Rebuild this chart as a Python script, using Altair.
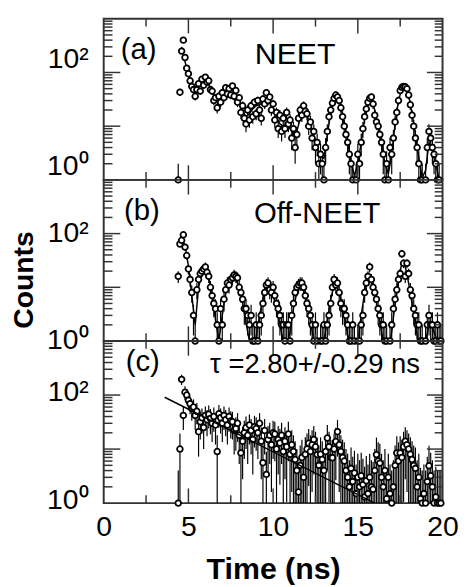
import altair as alt
import pandas as pd
import numpy as np

# ---------------- data ----------------
T0, DT, NBINS = 4.4, 0.1, 156          # time bins (ns)
COUNTS_A = [1, 43, 250, 400, 190, 120, 95, 70, 55, 48,
            36, 48, 62, 45, 75, 58, 82, 66, 70, 48,
            45, 30, 34, 22, 36, 28, 42, 34, 52, 40,
            50, 38, 56, 36, 46, 28, 34, 18, 24, 14,
            11, 20, 13, 24, 15, 28, 17, 30, 20, 14,
            32, 26, 42, 30, 35, 20, 26, 13, 18, 9,
            16, 8, 14, 9, 18, 11, 13, 6, 9, 4,
            7, 14, 20, 16, 24, 19, 17, 10, 12, 6,
            8, 4, 5, 2, 3, 2, 1, 4, 8, 15,
            20, 27, 33, 38, 35, 30, 22, 15, 10, 7,
            5, 3, 2, 1, 0, 1, 3, 2, 5, 9,
            15, 21, 28, 33, 35, 26, 16, 12, 10, 7,
            5, 3, 1, 2, 1, 4, 3, 6, 12, 18,
            30, 46, 53, 55, 54, 50, 38, 25, 16, 10,
            6, 4, 2, 1, 1, 0, 1, 4, 8, 6,
            4, 3, 2, 1, 1, 0]
COUNTS_B = [16, 64, 75, 95, 56, 39, 22, 14, 8, 3,
            1, 9, 14, 18, 20, 22, 24, 19, 16, 10,
            7, 5, 4, 2, 1, 4, 2, 6, 9, 12,
            11, 14, 15, 17, 16, 15, 10, 8, 6, 4,
            4, 3, 2, 3, 1, 1, 2, 1, 2, 3,
            5, 8, 11, 12, 9, 8, 10, 7, 5, 4,
            3, 2, 2, 1, 2, 2, 1, 3, 5, 8,
            10, 11, 12, 12, 10, 7, 5, 4, 3, 2,
            1, 2, 1, 0, 1, 1, 2, 1, 2, 3,
            5, 10, 14, 11, 12, 8, 5, 4, 4, 3,
            2, 1, 1, 2, 1, 0, 1, 1, 2, 3,
            8, 12, 16, 24, 14, 10, 8, 6, 4, 3,
            2, 2, 1, 1, 0, 1, 2, 4, 6, 9,
            14, 18, 42, 28, 16, 28, 18, 9, 7, 4,
            3, 2, 2, 1, 1, 0, 1, 2, 3, 2,
            2, 1, 1, 2, 1, 1]
COUNTS_C = [1, 10, 195, 42, 113, 100, 80, 69, 56, 60,
            42, 50, 21, 32, 38, 25, 42, 35, 44, 37,
            30, 40, 28, 9, 45, 38, 30, 42, 35, 28,
            40, 33, 32, 22, 24, 30, 18, 8.5, 14, 20,
            25, 18, 28, 22, 15, 26, 24, 20, 30, 14,
            5.6, 22, 3.4, 15, 18, 12, 20, 19, 10, 15,
            13, 18, 9, 14, 11, 19, 8, 12, 9, 6.4,
            4, 1.6, 5, 7, 3, 8, 10, 12.8, 9, 12,
            15, 11, 7.9, 5, 8, 6.4, 4, 9, 16, 11,
            7, 6.9, 10, 13.8, 21, 12, 9, 7, 6, 4,
            3, 2, 4.4, 2.5, 3.6, 1.5, 3, 2, 3.2, 2.2,
            1.3, 2.6, 1.5, 3, 2, 1.8, 4, 7.9, 6, 5.5,
            3, 2, 4, 1.2, 3, 1.5, 1, 2, 5, 8.5,
            6, 8.5, 7, 11, 14, 12, 10, 8, 6.4, 5,
            4.4, 2, 3, 1.2, 1, 1.5, 1, 2.5, 4.9, 3.2,
            2, 1, 1.3, 1, 1, 1]
ERR_K = [1.0, 1.0, 3.0]                # error-bar width in units of sqrt(N)

FIT_T0, FIT_DT, FIT_NPTS = 4.6, 0.2, 77
FIT_A = [300, 160, 90, 60, 50, 55, 65, 68, 60, 45,
         32, 30, 36, 44, 48, 47, 40, 28, 19, 15,
         17, 21, 24, 25, 28, 32, 29, 22, 15, 11,
         10, 11, 9, 7, 8, 14, 19, 16, 10, 6,
         4, 2.8, 2.5, 7, 18, 30, 35, 24, 11, 5,
         2.2, 1.2, 2, 5, 14, 26, 32, 20, 10, 5,
         2, 1.3, 3, 11, 30, 50, 52, 38, 17, 7,
         2.6, 1.1, 1.5, 5, 4, 2, 1]
FIT_B = [80, 60, 25, 7, 2, 10, 18, 21, 15, 7,
         2.5, 1, 3, 8, 13, 15, 14, 10, 5, 2.2,
         1, 0.8, 1.2, 3, 6, 10, 10, 7, 4, 2,
         1, 0.8, 1.5, 4, 8, 11, 9, 5, 2.5, 1,
         0.6, 0.6, 1, 2.5, 6, 11, 10, 6, 3, 1.3,
         0.7, 0.6, 1, 3, 8, 16, 16, 8, 3.5, 1.5,
         0.7, 0.6, 1.5, 5, 14, 28, 24, 12, 5, 2,
         0.8, 0.6, 1, 2, 1.8, 1.2, 0.8]
FIT_C_T = [3.6, 16.0]
FIT_C_N = [91, 1.0]

X_LABEL_VALUES = [0, 5, 10, 15, 20]
X_MAJOR = [5, 10, 15]
X_MINOR = [2.5, 7.5, 12.5, 17.5]
Y_LABEL_VALUES = [1, 100]
Y_MAJOR = [10, 100]
Y_MINOR = [2, 3, 4, 5, 6, 7, 8, 9, 20, 30, 40, 50, 60, 70, 80, 90,
           200, 300, 400, 500, 600, 700, 800, 900]

TAGS = ["(a)", "(b)", "(c)"]
TAG_POS = [(1.0, 263), (1.2, 263), (1.3, 398)]
LABELS = ["NEET", "Off-NEET", "\u03c4 =2.80+/-0.29 ns"]
LABEL_POS = [(11.3, 213), (12.6, 230), (6.28, 351)]
LABEL_ALIGN = ["center", "center", "left"]
LABEL_SIZE = [31, 30, 28]
Y_LABEL_OFFSET = [-14, -1, -3]
HEIGHTS = [165, 165, 166]

# ---------------- chart ----------------
FONT = "Liberation Sans"
INK = "#333333"
W = 347
X_MIN, X_MAX, Y_MIN, Y_MAX = 0, 20, 1, 1000
xs = alt.Scale(domain=[X_MIN, X_MAX], nice=False, zero=False)
ys = alt.Scale(type="log", domain=[Y_MIN, Y_MAX], nice=False)

# inward tick lengths in pixels
Y_TICK_LEFT = (17, 9)
Y_TICK_RIGHT = (16, 8)
X_TICK = (15, 8)

times = [round(T0 + DT * i, 1) for i in range(NBINS)]
fit_times = [round(FIT_T0 + FIT_DT * i, 1) for i in range(FIT_NPTS)]


def tick_frames(h):
    px_t = W / (X_MAX - X_MIN)
    px_dec = h / np.log10(Y_MAX / Y_MIN)
    yrows = []
    for vals, k in ((Y_MAJOR, 0), (Y_MINOR, 1)):
        for v in vals:
            yrows.append({"t": X_MIN, "t2": X_MIN + Y_TICK_LEFT[k] / px_t, "N": v})
            yrows.append({"t": X_MAX, "t2": X_MAX - Y_TICK_RIGHT[k] / px_t, "N": v})
    xrows = []
    for vals, k in ((X_MAJOR, 0), (X_MINOR, 1)):
        f = 10 ** (X_TICK[k] / px_dec)
        for v in vals:
            xrows.append({"t": v, "N": Y_MIN, "N2": Y_MIN * f})
            xrows.append({"t": v, "N": Y_MAX, "N2": Y_MAX / f})
    return pd.DataFrame(yrows), pd.DataFrame(xrows)


def panel(i, counts, fit_t, fit_n):
    h = HEIGHTS[i]
    df = pd.DataFrame({"t": times, "N": counts})
    df = df[df["N"] > 0].copy()
    e = ERR_K[i] * np.sqrt(df["N"])
    df["lo"] = np.maximum(df["N"] - e, Y_MIN)
    df["hi"] = df["N"] + e
    fdf = pd.DataFrame({"t": fit_t, "N": fit_n})
    ytick_df, xtick_df = tick_frames(h)

    last = i == 2
    if last:
        x_axis = alt.Axis(values=X_LABEL_VALUES, format="d", ticks=False, tickSize=0,
                          domain=False, grid=False, labelFont=FONT, labelFontSize=29,
                          labelColor="black", labelPadding=10, labelFlush=False,
                          labelOverlap=False, title="Time (ns)", titleFont=FONT,
                          titleFontSize=31, titleFontWeight="bold", titleColor="black",
                          titlePadding=14)
    else:
        x_axis = None
    y_axis = alt.Axis(values=Y_LABEL_VALUES,
                      labelExpr="datum.value < 10 ? '10\u2070' : '10\u00b2'",
                      ticks=False, tickSize=0, domain=False, grid=False,
                      labelFont=FONT, labelFontSize=29, labelColor="black",
                      labelPadding=16, labelOffset=Y_LABEL_OFFSET[i], labelOverlap=False,
                      title="Counts", titleFont=FONT, titleFontSize=29,
                      titleFontWeight="bold", titleColor="black", titlePadding=9,
                      titleOpacity=1 if i == 1 else 0, titleY=102)
    xt_title = "Time (ns)" if last else None
    X = alt.X("t:Q", scale=xs, axis=x_axis, title=xt_title)
    Y = alt.Y("N:Q", scale=ys, axis=y_axis, title="Counts")

    bars = alt.Chart(df).mark_rule(color="black", strokeWidth=1.2).encode(
        x=X, y=alt.Y("lo:Q", scale=ys, axis=y_axis, title="Counts"), y2="hi:Q")
    pts = alt.Chart(df).mark_point(shape="circle", filled=True, fill="white",
                                   stroke="black", strokeWidth=1.8, size=34,
                                   opacity=1).encode(x=X, y=Y)
    fit = alt.Chart(fdf).mark_line(color="black", strokeWidth=1.5, clip=True).encode(x=X, y=Y)
    yt = alt.Chart(ytick_df).mark_rule(strokeWidth=1.5, color=INK).encode(
        x=X, x2="t2:Q", y=Y)
    xt = alt.Chart(xtick_df).mark_rule(strokeWidth=1.5, color=INK).encode(
        x=X, y=Y, y2="N2:Q")
    tag_df = pd.DataFrame({"t": [TAG_POS[i][0]], "N": [TAG_POS[i][1]], "txt": [TAGS[i]]})
    lab_df = pd.DataFrame({"t": [LABEL_POS[i][0]], "N": [LABEL_POS[i][1]], "txt": [LABELS[i]]})
    tag = alt.Chart(tag_df).mark_text(align="left", baseline="middle", font=FONT,
                                      fontSize=30, color="black").encode(x=X, y=Y, text="txt:N")
    lab = alt.Chart(lab_df).mark_text(align=LABEL_ALIGN[i], baseline="middle", font=FONT,
                                      fontSize=LABEL_SIZE[i], color="black").encode(
        x=X, y=Y, text="txt:N")
    layers = [bars]
    layers += [pts, fit] if last else [fit, pts]
    layers += [yt, xt, tag, lab]
    return alt.layer(*layers).properties(width=W, height=h)


chart = alt.vconcat(
    panel(0, COUNTS_A, fit_times, FIT_A),
    panel(1, COUNTS_B, fit_times, FIT_B),
    panel(2, COUNTS_C, FIT_C_T, FIT_C_N),
    spacing=0,
    bounds="flush",
).properties(
    padding={"left": 0, "top": 2, "right": 5, "bottom": 0},
    background="white",
).configure_view(stroke=INK, strokeWidth=2)

chart.save("out.html", embed_options={"renderer": "svg", "actions": False})
